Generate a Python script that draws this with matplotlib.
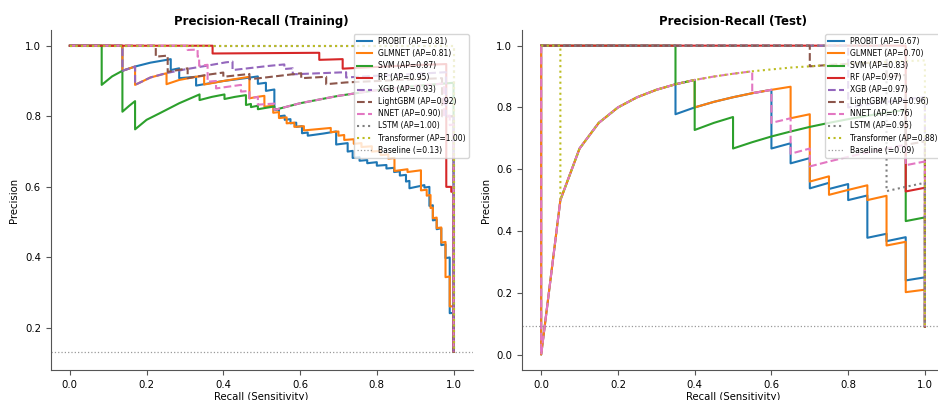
import numpy as np
import matplotlib
matplotlib.use('Agg')
import matplotlib.pyplot as plt

models = ['PROBIT', 'GLMNET', 'SVM', 'RF', 'XGB', 'LightGBM', 'NNET', 'LSTM', 'Transformer']
colors = ['tab:blue', 'tab:orange', 'tab:green', 'tab:red', 'tab:purple',
          'tab:brown', 'tab:pink', 'tab:gray', 'tab:olive']
styles = ['-', '-', '-', '-', '--', '--', '--', ':', ':']

ap_train = [0.81, 0.81, 0.87, 0.95, 0.93, 0.92, 0.90, 1.00, 1.00]
ap_test = [0.67, 0.70, 0.83, 0.97, 0.97, 0.96, 0.76, 0.95, 0.88]
base_train = 0.133
base_test = 0.0909

# ---------------- training curves (recall, precision) ----------------
tr_probit_r = [0, 0.137, 0.137, 0.17, 0.21, 0.263, 0.263, 0.285, 0.285, 0.329, 0.329, 0.35, 0.40, 0.45,
               0.49, 0.49, 0.511, 0.511, 0.533, 0.533, 0.545, 0.545, 0.56, 0.56, 0.575, 0.575, 0.59, 0.59,
               0.605, 0.605, 0.62, 0.62, 0.66, 0.694, 0.694, 0.724, 0.724, 0.737, 0.737, 0.755, 0.755,
               0.775, 0.775, 0.80, 0.80, 0.825, 0.825, 0.845, 0.845, 0.86, 0.86, 0.876, 0.876, 0.885,
               0.885, 0.924, 0.924, 0.937, 0.937, 0.946, 0.946, 0.956, 0.956, 0.968, 0.968, 0.979, 0.979,
               0.99, 0.99, 1.0, 1.0]
tr_probit_p = [1, 1, 0.929, 0.941, 0.952, 0.962, 0.931, 0.936, 0.908, 0.912, 0.887, 0.891, 0.90, 0.907,
               0.913, 0.892, 0.895, 0.872, 0.876, 0.818, 0.82, 0.80, 0.802, 0.79, 0.792, 0.78, 0.782, 0.77,
               0.772, 0.752, 0.754, 0.745, 0.751, 0.757, 0.72, 0.724, 0.70, 0.702, 0.682, 0.684, 0.674,
               0.676, 0.667, 0.67, 0.66, 0.662, 0.652, 0.654, 0.642, 0.644, 0.632, 0.634, 0.615, 0.617,
               0.596, 0.605, 0.598, 0.60, 0.546, 0.548, 0.505, 0.507, 0.48, 0.483, 0.435, 0.437, 0.398,
               0.40, 0.242, 0.243, 0.133]

tr_glmnet_r = [0, 0.137, 0.137, 0.17, 0.17, 0.21, 0.252, 0.252, 0.285, 0.329, 0.35, 0.35, 0.40, 0.468,
               0.468, 0.494, 0.507, 0.507, 0.53, 0.53, 0.545, 0.545, 0.565, 0.565, 0.585, 0.585, 0.61, 0.61,
               0.66, 0.68, 0.68, 0.70, 0.70, 0.715, 0.715, 0.74, 0.74, 0.76, 0.76, 0.787, 0.787, 0.81, 0.81,
               0.83, 0.83, 0.846, 0.846, 0.88, 0.88, 0.915, 0.915, 0.93, 0.93, 0.94, 0.94, 0.946, 0.946,
               0.956, 0.956, 0.968, 0.968, 0.979, 0.979, 0.99, 0.99, 1.0, 1.0]
tr_glmnet_p = [1, 1, 0.929, 0.941, 0.889, 0.91, 0.922, 0.891, 0.903, 0.912, 0.915, 0.89, 0.90, 0.912,
               0.851, 0.856, 0.858, 0.827, 0.83, 0.81, 0.812, 0.795, 0.797, 0.78, 0.782, 0.77, 0.772, 0.76,
               0.765, 0.767, 0.755, 0.757, 0.745, 0.747, 0.733, 0.735, 0.722, 0.724, 0.713, 0.715, 0.70,
               0.702, 0.69, 0.692, 0.68, 0.682, 0.645, 0.65, 0.642, 0.647, 0.59, 0.592, 0.575, 0.577, 0.54,
               0.541, 0.511, 0.513, 0.483, 0.485, 0.442, 0.444, 0.344, 0.346, 0.261, 0.262, 0.133]

tr_svm_r = [0, 0.083, 0.083, 0.11, 0.137, 0.137, 0.155, 0.17, 0.17, 0.20, 0.233, 0.285, 0.338, 0.338,
            0.37, 0.403, 0.403, 0.43, 0.459, 0.459, 0.472, 0.472, 0.49, 0.49, 0.533, 0.533, 0.60, 0.70,
            0.80, 0.90, 1.0, 1.0]
tr_svm_p = [1, 1, 0.889, 0.913, 0.929, 0.813, 0.83, 0.843, 0.763, 0.79, 0.808, 0.837, 0.862, 0.846,
            0.855, 0.862, 0.849, 0.855, 0.86, 0.832, 0.835, 0.826, 0.83, 0.82, 0.828, 0.818, 0.837, 0.858,
            0.874, 0.886, 0.895, 0.133]

tr_rf_r = [0, 0.372, 0.372, 0.65, 0.65, 0.711, 0.711, 0.80, 0.90, 0.981, 0.981, 0.994, 0.994, 1.0, 1.0]
tr_rf_p = [1, 1, 0.978, 0.98, 0.96, 0.962, 0.935, 0.94, 0.945, 0.948, 0.60, 0.60, 0.586, 0.587, 0.133]

tr_xgb_r = [0, 0.137, 0.137, 0.17, 0.17, 0.21, 0.25, 0.30, 0.355, 0.407, 0.424, 0.424, 0.52, 0.559,
            0.559, 0.581, 0.581, 0.65, 0.72, 0.72, 0.80, 0.90, 0.98, 0.98, 1.0, 1.0]
tr_xgb_p = [1, 1, 0.929, 0.941, 0.889, 0.91, 0.922, 0.933, 0.943, 0.953, 0.955, 0.931, 0.943, 0.947,
            0.934, 0.936, 0.919, 0.922, 0.925, 0.91, 0.915, 0.92, 0.925, 0.80, 0.80, 0.133]

tr_lgbm_r = [0, 0.224, 0.224, 0.255, 0.255, 0.307, 0.307, 0.36, 0.40, 0.40, 0.468, 0.468, 0.494, 0.603,
             0.603, 0.668, 0.668, 0.72, 0.80, 0.90, 0.97, 0.97, 1.0, 1.0]
tr_lgbm_p = [1, 1, 0.969, 0.972, 0.926, 0.936, 0.908, 0.918, 0.924, 0.912, 0.92, 0.905, 0.908, 0.922,
             0.908, 0.912, 0.891, 0.896, 0.90, 0.905, 0.908, 0.80, 0.80, 0.133]

tr_nnet_r = [0, 0.307, 0.307, 0.333, 0.333, 0.337, 0.337, 0.359, 0.359, 0.381, 0.381, 0.446, 0.446,
             0.468, 0.468, 0.49, 0.49, 0.533, 0.533, 0.60, 0.70, 0.80, 0.90, 0.975, 0.975, 0.99, 0.99,
             1.0, 1.0]
tr_nnet_p = [1, 1, 0.988, 0.989, 0.969, 0.969, 0.943, 0.946, 0.898, 0.90, 0.879, 0.889, 0.870, 0.872,
             0.851, 0.855, 0.833, 0.836, 0.818, 0.837, 0.858, 0.874, 0.886, 0.893, 0.80, 0.802, 0.775,
             0.777, 0.133]

tr_lstm_r = [0, 1.0, 1.0]
tr_lstm_p = [1, 1, 0.133]

tr_trans_r = [0, 1.0, 1.0]
tr_trans_p = [1, 1, 0.133]

# ---------------- test curves (recall, precision) ----------------
te_probit_r = [0, 0, 0.05, 0.10, 0.15, 0.20, 0.25, 0.30, 0.35, 0.35, 0.40, 0.45, 0.50, 0.55, 0.60, 0.60,
               0.65, 0.65, 0.70, 0.70, 0.75, 0.75, 0.80, 0.80, 0.85, 0.85, 0.90, 0.90, 0.95, 0.95, 1.0, 1.0]
te_probit_p = [1, 0, 0.50, 0.667, 0.75, 0.80, 0.833, 0.857, 0.875, 0.778, 0.80, 0.818, 0.833, 0.846,
               0.857, 0.667, 0.684, 0.619, 0.636, 0.538, 0.556, 0.536, 0.552, 0.50, 0.515, 0.378, 0.391,
               0.367, 0.38, 0.24, 0.25, 0.0909]

te_glmnet_r = [0, 0, 0.05, 0.10, 0.15, 0.20, 0.25, 0.30, 0.35, 0.40, 0.40, 0.45, 0.50, 0.55, 0.60, 0.65,
               0.65, 0.70, 0.70, 0.75, 0.75, 0.80, 0.85, 0.85, 0.90, 0.90, 0.95, 0.95, 1.0, 1.0]
te_glmnet_p = [1, 0, 0.50, 0.667, 0.75, 0.80, 0.833, 0.857, 0.875, 0.889, 0.80, 0.818, 0.833, 0.846,
               0.857, 0.867, 0.765, 0.778, 0.56, 0.577, 0.517, 0.533, 0.548, 0.50, 0.514, 0.353, 0.365,
               0.202, 0.21, 0.0909]

te_svm_r = [0, 0.35, 0.35, 0.40, 0.40, 0.45, 0.50, 0.50, 0.55, 0.60, 0.65, 0.70, 0.75, 0.80, 0.85, 0.90,
            0.95, 0.95, 1.0, 1.0]
te_svm_p = [1, 1, 0.875, 0.889, 0.727, 0.75, 0.769, 0.667, 0.6875, 0.706, 0.722, 0.737, 0.75, 0.762,
            0.773, 0.783, 0.792, 0.432, 0.444, 0.0909]

te_rf_r = [0, 0.95, 0.95, 1.0, 1.0]
te_rf_p = [1, 1, 0.528, 0.54, 0.0909]

te_xgb_r = [0, 0.80, 0.80, 0.85, 0.90, 0.95, 1.0, 1.0]
te_xgb_p = [1, 1, 0.80, 0.81, 0.818, 0.826, 0.833, 0.0909]

te_lgbm_r = [0, 0.70, 0.70, 0.75, 0.80, 0.85, 0.90, 0.90, 0.95, 0.95, 1.0, 1.0]
te_lgbm_p = [1, 1, 0.933, 0.9375, 0.941, 0.944, 0.947, 0.90, 0.905, 0.679, 0.69, 0.0909]

te_nnet_r = [0, 0, 0.05, 0.10, 0.15, 0.20, 0.25, 0.30, 0.35, 0.40, 0.45, 0.50, 0.55, 0.55, 0.60, 0.60,
             0.65, 0.65, 0.70, 0.70, 0.75, 0.80, 0.85, 0.90, 0.95, 0.95, 1.0, 1.0]
te_nnet_p = [1, 0, 0.50, 0.667, 0.75, 0.80, 0.833, 0.857, 0.875, 0.889, 0.90, 0.909, 0.917, 0.846, 0.857,
             0.75, 0.765, 0.65, 0.667, 0.609, 0.625, 0.64, 0.654, 0.667, 0.679, 0.613, 0.625, 0.0909]

te_lstm_r = [0, 0.90, 0.90, 0.95, 1.0, 1.0]
te_lstm_p = [1, 1, 0.529, 0.543, 0.556, 0.0909]

te_trans_r = [0, 0.05, 0.05, 0.10, 0.15, 0.20, 0.25, 0.30, 0.35, 0.40, 0.45, 0.50, 0.55, 0.60, 0.65,
              0.70, 0.75, 0.80, 0.85, 0.90, 0.95, 1.0, 1.0]
te_trans_p = [1, 1, 0.50, 0.667, 0.75, 0.80, 0.833, 0.857, 0.875, 0.889, 0.90, 0.909, 0.917, 0.923,
              0.929, 0.933, 0.9375, 0.941, 0.944, 0.947, 0.95, 0.952, 0.0909]

train_curves = [(tr_probit_r, tr_probit_p), (tr_glmnet_r, tr_glmnet_p), (tr_svm_r, tr_svm_p),
                (tr_rf_r, tr_rf_p), (tr_xgb_r, tr_xgb_p), (tr_lgbm_r, tr_lgbm_p),
                (tr_nnet_r, tr_nnet_p), (tr_lstm_r, tr_lstm_p), (tr_trans_r, tr_trans_p)]
test_curves = [(te_probit_r, te_probit_p), (te_glmnet_r, te_glmnet_p), (te_svm_r, te_svm_p),
               (te_rf_r, te_rf_p), (te_xgb_r, te_xgb_p), (te_lgbm_r, te_lgbm_p),
               (te_nnet_r, te_nnet_p), (te_lstm_r, te_lstm_p), (te_trans_r, te_trans_p)]

fig = plt.figure(figsize=(9.38, 4.0), dpi=100)
ax1 = fig.add_axes([0.054, 0.075, 0.450, 0.8495])
ax2 = fig.add_axes([0.5565, 0.075, 0.450, 0.8495])

panels = [(ax1, train_curves, ap_train, base_train, 'Precision-Recall (Training)', (0.081, 1.044)),
          (ax2, test_curves, ap_test, base_test, 'Precision-Recall (Test)', (-0.05, 1.05))]

for ax, curves, aps, base, title, ylim in panels:
    for k in range(len(models)):
        r, p = curves[k]
        ax.plot(r, p, linestyle=styles[k], color=colors[k], lw=1.5,
                label='{} (AP={:.2f})'.format(models[k], aps[k]))
    ax.axhline(base, color='gray', linestyle=':', lw=0.9, alpha=0.8,
               label='Baseline (={:.2f})'.format(base))
    ax.set_xlim(-0.05, 1.05)
    ax.set_ylim(*ylim)
    ax.set_title(title, fontsize=8.5, fontweight='bold', pad=4)
    ax.set_xlabel('Recall (Sensitivity)', fontsize=7.3, labelpad=1.5)
    ax.set_ylabel('Precision', fontsize=7.3)
    ax.tick_params(labelsize=7.3, color='#555555')
    ax.spines['top'].set_visible(False)
    ax.spines['right'].set_visible(False)
    for s in ['left', 'bottom']:
        ax.spines[s].set_color('#555555')
    ax.legend(loc='upper right', fontsize=5.5, labelspacing=0.4)

fig.savefig('out.png', dpi=100)
